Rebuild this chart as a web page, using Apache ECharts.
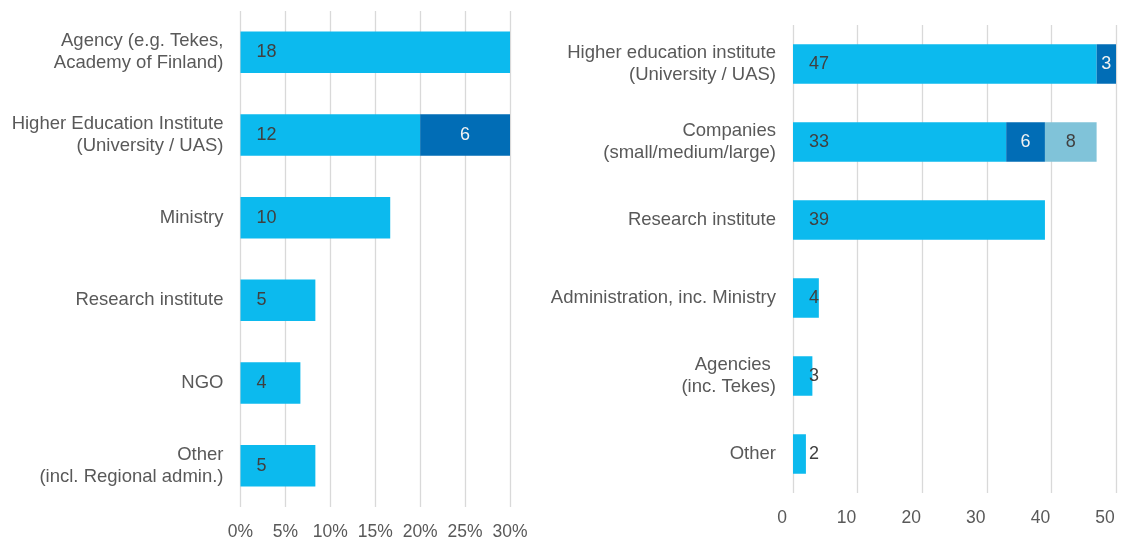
<!DOCTYPE html>
<html>
<head>
<meta charset="utf-8">
<script src="https://cdn.jsdelivr.net/npm/echarts@6/dist/echarts.min.js"></script>
<style>
  html, body { margin: 0; padding: 0; background: #ffffff; }
  #chart { width: 1124px; height: 537px; }
</style>
</head>
<body>
<div id="chart"></div>
<script>
// Left panel: organisation types, counts split into two groups
const leftCategories = [
  'Agency (e.g. Tekes,\nAcademy of Finland)',
  'Higher Education Institute\n(University / UAS)',
  'Ministry',
  'Research institute',
  'NGO',
  'Other\n(incl. Regional admin.)'
];
const leftMain = [18, 12, 10, 5, 4, 5];
const leftSecond = [null, 6, null, null, null, null];
const leftTicks = [0, 5, 10, 15, 20, 25, 30];

// Right panel: partner types, counts split into three groups
const rightCategories = [
  'Higher education institute\n(University / UAS)',
  'Companies\n(small/medium/large)',
  'Research institute',
  'Administration, inc. Ministry',
  'Agencies \n(inc. Tekes)',
  'Other'
];
const rightMain = [47, 33, 39, 4, 3, 2];
const rightSecond = [3, 6, null, null, null, null];
const rightThird = [null, 8, null, null, null, null];
const rightTicks = [0, 10, 20, 30, 40, 50];

const FONT = '"Liberation Sans", Arial, sans-serif';
const C_LIGHT = '#0CBAEE';
const C_DARK = '#016DB6';
const C_TEAL = '#80C3D9';
const TEXT = '#595959';
const LABEL = '#404040';
const GRID = '#D9D9D9';

// Left bars are drawn as shares of all counts
const leftTotal = [...leftMain, ...leftSecond].reduce((a, b) => a + (b || 0), 0);
const toShare = arr => arr.map(v => v == null ? null : { value: v / leftTotal * 100, count: v });

function valueAxis(gridIndex, ticks, fmt, labelPad) {
  return {
    type: 'value', gridIndex,
    min: ticks[0], max: ticks[ticks.length - 1], interval: ticks[1] - ticks[0],
    axisLine: { show: false }, axisTick: { show: false },
    splitLine: { show: true, lineStyle: { color: GRID, width: 1.3 } },
    axisLabel: { color: TEXT, fontSize: 17.5, fontFamily: FONT, margin: 16, formatter: fmt, padding: labelPad }
  };
}
function catAxis(gridIndex, cats) {
  return {
    type: 'category', gridIndex, data: cats, inverse: true,
    axisLine: { show: false }, axisTick: { show: false },
    axisLabel: { color: TEXT, fontSize: 18.5, fontFamily: FONT, margin: 17, lineHeight: 22, align: 'right' }
  };
}
function barSeries(axisIdx, stack, data, color, labelColor, pos, width) {
  return {
    type: 'bar', xAxisIndex: axisIdx, yAxisIndex: axisIdx, stack, data,
    barWidth: width, itemStyle: { color }, silent: true,
    label: {
      show: true, position: pos, distance: 16, color: labelColor,
      fontSize: 18, fontFamily: FONT,
      formatter: p => p.data && p.data.count != null ? String(p.data.count) : String(p.value)
    }
  };
}

const chart = echarts.init(document.getElementById('chart'), null, { renderer: 'canvas' });
chart.setOption({
  animation: false,
  backgroundColor: '#ffffff',
  grid: [
    { left: 240.5, top: 11, width: 269.5, height: 496, containLabel: false, outerBoundsMode: 'none' },
    { left: 793, top: 25, width: 323, height: 468, containLabel: false, outerBoundsMode: 'none' }
  ],
  xAxis: [
    valueAxis(0, leftTicks, '{value}%', [0, 0, 0, 0]),
    valueAxis(1, rightTicks, '{value}', [0, 22, 0, 0])
  ],
  yAxis: [catAxis(0, leftCategories), catAxis(1, rightCategories)],
  series: [
    barSeries(0, 'L', toShare(leftMain), C_LIGHT, LABEL, 'insideLeft', 41.5),
    barSeries(0, 'L', toShare(leftSecond), C_DARK, '#F2F2F2', 'inside', 41.5),
    barSeries(1, 'R', rightMain, C_LIGHT, LABEL, 'insideLeft', 39.5),
    barSeries(1, 'R', rightSecond, C_DARK, '#F2F2F2', 'inside', 39.5),
    barSeries(1, 'R', rightThird, C_TEAL, LABEL, 'inside', 39.5)
  ]
});
</script>
</body>
</html>
